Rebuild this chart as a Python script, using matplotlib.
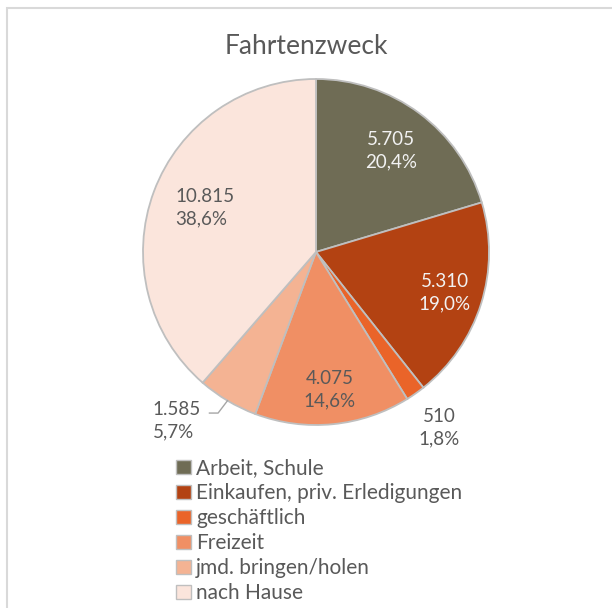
import numpy as np
import matplotlib.pyplot as plt
from matplotlib.patches import Rectangle

# Fahrtenzweck data
categories = ["Arbeit, Schule", "Einkaufen, priv. Erledigungen", "geschäftlich",
              "Freizeit", "jmd. bringen/holen", "nach Hause"]
values = [5705, 5310, 510, 4075, 1585, 10815]
percents = ["20,4%", "19,0%", "1,8%", "14,6%", "5,7%", "38,6%"]
colors = ["#6f6c55", "#b34212", "#ea6429", "#f08f64", "#f4b393", "#fbe5dc"]

plt.rcParams['font.family'] = ['Lato', 'DejaVu Sans']

W, H = 612, 608
fig = plt.figure(figsize=(W / 100, H / 100), dpi=100)

# chart frame (cut off at right / bottom)
fig.patches.append(Rectangle((6.5 / W, -0.1), 1.2, (H - 8.5) / H + 0.1,
                             transform=fig.transFigure, fill=False,
                             edgecolor="#d9d9d9", linewidth=1.5))

cx, cy, R = 316, 252, 173
ax = fig.add_axes([(cx - R) / W, (H - cy - R) / H, 2 * R / W, 2 * R / H])
wedges, _ = ax.pie(values, colors=colors, startangle=90, counterclock=False,
                   radius=1.0,
                   wedgeprops=dict(edgecolor="#bfbfbf", linewidth=1.3))
ax.set_xlim(-1, 1)
ax.set_ylim(-1, 1)
ax.axis("off")

fig.text(0.5, 1 - 46 / H, "Fahrtenzweck", ha="center", va="center",
         fontsize=19, color="#595959")

# label placement: (radius factor, text color)
label_style = [
    (0.73, "#f2f2f2"),
    (0.78, "#f2f2f2"),
    (1.24, "#595959"),
    (0.80, "#595959"),
    (1.26, "#595959"),
    (0.72, "#595959"),
]

total = sum(values)
start = 90.0
for i, v in enumerate(values):
    span = v / total * 360.0
    mid = np.deg2rad(start - span / 2)
    start -= span
    rf, col = label_style[i]
    x, y = rf * np.cos(mid), rf * np.sin(mid)
    txt = f"{v:,}".replace(",", ".") + "\n" + percents[i]
    if i == 4:
        # leader line for small slice
        ex, ey = np.cos(mid), np.sin(mid)
        kx, ky = -0.566, -0.931
        ax.plot([ex, kx, kx - 0.05], [ey, ky, ky], color="#a6a6a6",
                linewidth=1.0, clip_on=False)
        ax.text(-0.945, -0.975, txt, ha="left", va="center", fontsize=13.5,
                color=col, linespacing=1.4)
        continue
    if i == 5:
        ax.text(-0.815, 0.255, txt, ha="left", va="center", fontsize=13.5,
                color=col, linespacing=1.4)
        continue
    ax.text(x, y, txt, ha="center", va="center", fontsize=13.5, color=col,
            linespacing=1.4, multialignment="center")

handles = [Rectangle((0, 0), 1, 1, facecolor=c, edgecolor="#bfbfbf", linewidth=1.0)
           for c in colors]
fig.legend(handles, categories, loc="upper left",
           bbox_to_anchor=(166 / W, 1 - 448 / H), frameon=False,
           fontsize=15, handlelength=0.7, handleheight=0.7,
           handletextpad=0.25, labelspacing=0.24, borderpad=0,
           labelcolor="#595959")

fig.savefig("out.png", dpi=100, facecolor="white")
